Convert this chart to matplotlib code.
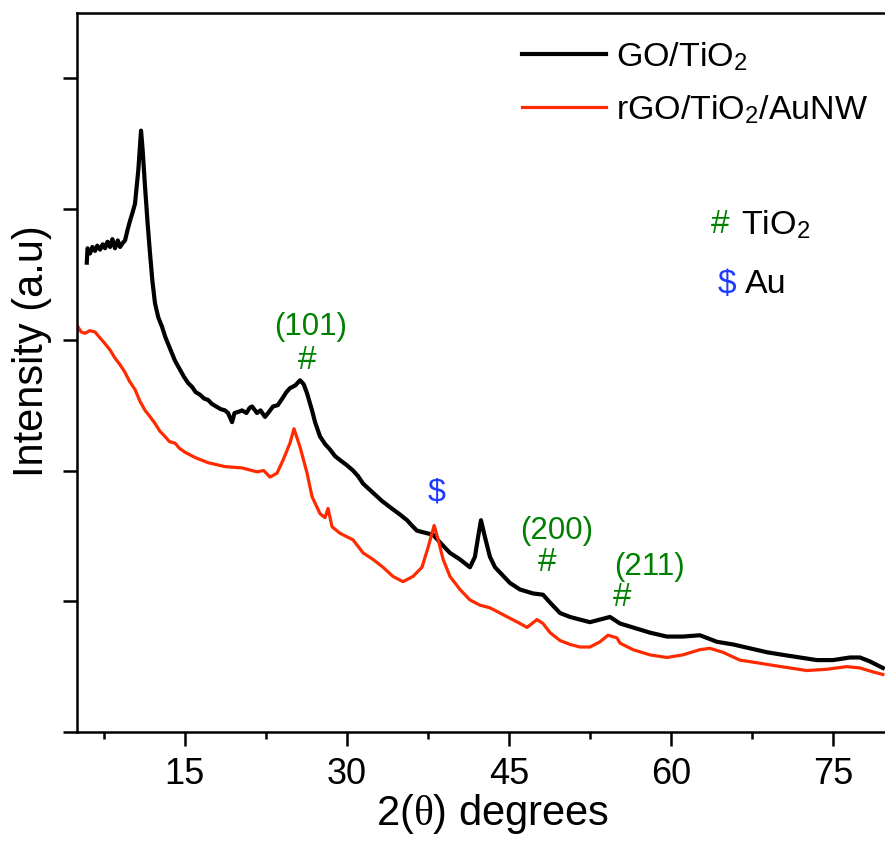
import matplotlib
matplotlib.use("Agg")
import matplotlib.pyplot as plt

plt.rcParams['font.family'] = ['Liberation Sans', 'DejaVu Sans']
plt.rcParams['mathtext.fontset'] = 'custom'
plt.rcParams['mathtext.rm'] = 'Liberation Sans'
plt.rcParams['mathtext.it'] = 'Liberation Serif'

# XRD patterns, 2theta (deg) vs intensity (a.u.)
go_tio2_2theta = [5.93, 6.0, 6.23, 6.45, 6.69, 6.9, 7.16, 7.4, 7.62, 7.85, 8.08, 8.3,
                  8.54, 8.8, 9.01, 9.25, 9.47, 9.7, 9.93, 10.15, 10.39, 10.7, 10.95,
                  11.1, 11.32, 11.55, 11.78, 12.0, 12.24, 12.55, 12.89, 13.2, 13.5,
                  13.8, 14.09, 14.5, 14.9, 15.3, 15.67, 16.0, 16.4, 16.8, 17.15, 17.5,
                  17.9, 18.3, 18.72, 19.0, 19.37, 19.6, 20.0, 20.29, 20.7, 21.0, 21.22,
                  21.68, 22.0, 22.42, 22.8, 23.16, 23.6, 24.09, 24.4, 24.73, 25.2,
                  25.66, 26.0, 26.31, 26.77, 27.05, 27.51, 28.0, 28.44, 28.9, 29.36,
                  30.0, 30.56, 31.0, 31.49, 32.41, 33.2, 33.98, 34.8, 35.56, 36.0,
                  36.48, 37.41, 37.96, 38.61, 39.53, 40.46, 41.38, 41.84, 42.15, 42.4,
                  42.77, 43.23, 43.7, 44.16, 45.08, 46.01, 47.21, 48.14, 48.79, 49.71,
                  50.64, 51.56, 52.48, 53.41, 54.33, 55.26, 56.46, 58.03, 59.6, 61.08,
                  62.66, 64.23, 65.71, 67.28, 68.86, 70.34, 71.91, 73.48, 74.96, 76.53,
                  77.46, 78.38, 79.58]
go_tio2_int = [3.59, 3.70, 3.66, 3.71, 3.68, 3.72, 3.69, 3.73, 3.70, 3.75, 3.71, 3.77,
               3.70, 3.76, 3.71, 3.74, 3.76, 3.84, 3.91, 3.97, 4.04, 4.30, 4.60,
               4.45, 4.17, 3.90, 3.66, 3.45, 3.28, 3.17, 3.10, 3.02, 2.96,
               2.90, 2.84, 2.78, 2.72, 2.67, 2.64, 2.60, 2.58, 2.55, 2.54, 2.51,
               2.49, 2.47, 2.46, 2.44, 2.37, 2.44, 2.45, 2.46, 2.44, 2.48, 2.49,
               2.44, 2.46, 2.41, 2.45, 2.49, 2.50, 2.56, 2.60, 2.63, 2.65,
               2.69, 2.66, 2.59, 2.46, 2.37, 2.26, 2.20, 2.16, 2.11, 2.08,
               2.04, 2.00, 1.96, 1.90, 1.83, 1.77, 1.72, 1.67, 1.62, 1.58,
               1.54, 1.52, 1.51, 1.45, 1.37, 1.32, 1.26, 1.34, 1.50, 1.62,
               1.49, 1.34, 1.26, 1.22, 1.14, 1.09, 1.06, 1.05, 0.99, 0.91,
               0.88, 0.86, 0.84, 0.86, 0.88, 0.83, 0.80, 0.76, 0.73, 0.73,
               0.74, 0.69, 0.67, 0.64, 0.61, 0.59, 0.57, 0.55, 0.55, 0.57,
               0.57, 0.54, 0.49]

rgo_au_2theta = [5.03, 5.4, 5.77, 6.2, 6.69, 7.1, 7.62, 8.1, 8.54, 9.0, 9.47, 9.9,
                 10.39, 10.85, 11.32, 11.8, 12.24, 12.7, 13.17, 13.6, 14.09, 14.5,
                 15.02, 15.94, 17.15, 18.72, 20.29, 21.22, 21.68, 22.3, 22.88, 23.53,
                 24.09, 24.73, 25.1, 25.66, 26.31, 26.77, 27.51, 27.97, 28.25, 28.62,
                 29.36, 30.56, 31.49, 32.41, 33.34, 34.26, 35.19, 36.11, 36.94, 37.5,
                 38.07, 38.44, 38.9, 39.53, 40.46, 41.38, 42.31, 43.23, 44.16, 45.08,
                 46.01, 46.66, 47.58, 48.14, 48.79, 49.71, 50.64, 51.56, 52.48, 53.41,
                 54.15, 54.98, 55.26, 56.46, 58.03, 59.6, 61.08, 62.66, 63.58, 64.78,
                 66.35, 67.92, 69.4, 70.97, 72.54, 74.39, 76.24, 77.46, 78.66, 79.58]
rgo_au_int = [3.11, 3.06, 3.05, 3.07, 3.06, 3.02, 2.97, 2.92, 2.86, 2.81, 2.75, 2.68,
              2.62, 2.53, 2.46, 2.41, 2.36, 2.30, 2.26, 2.22, 2.21, 2.17,
              2.14, 2.10, 2.06, 2.03, 2.02, 2.00, 1.99, 2.00, 1.95, 1.98,
              2.08, 2.21, 2.32, 2.18, 1.98, 1.80, 1.67, 1.64, 1.71, 1.57,
              1.52, 1.47, 1.37, 1.32, 1.26, 1.19, 1.15, 1.19, 1.26, 1.41,
              1.58, 1.47, 1.32, 1.19, 1.09, 1.01, 0.97, 0.95, 0.91, 0.87,
              0.83, 0.80, 0.86, 0.83, 0.76, 0.70, 0.67, 0.65, 0.65, 0.69,
              0.74, 0.72, 0.68, 0.63, 0.59, 0.57, 0.59, 0.63, 0.64, 0.61,
              0.55, 0.53, 0.51, 0.49, 0.47, 0.48, 0.50, 0.49, 0.46, 0.44]

# peak markers: (2theta, intensity, text)
tio2_hkl = [(26.6, 3.10, '(101)'), (49.4, 1.54, '(200)'), (58.0, 1.26, '(211)')]
tio2_hash = [(26.3, 2.84), (48.5, 1.30), (55.5, 1.03)]
au_peak = (38.3, 1.83)

green = '#008000'
blue = '#1e3cff'
red = '#ff2a00'

fig = plt.figure(figsize=(8.85, 8.41), dpi=100)
ax = fig.add_axes([0.0867, 0.1296, 0.916, 0.855])

ax.plot(go_tio2_2theta, go_tio2_int, color='black', lw=3.0, label='GO/TiO$_2$')
ax.plot(rgo_au_2theta, rgo_au_int, color=red, lw=2.3, label='rGO/TiO$_2$/AuNW')

for x, y, s in tio2_hkl:
    ax.text(x, y, s, color=green, fontsize=22.5, ha='center', va='center')
for x, y in tio2_hash:
    ax.text(x, y, '#', color=green, fontsize=24, ha='center', va='center')
ax.text(au_peak[0], au_peak[1], '$', color=blue, fontsize=23, ha='center', va='center')

# phase key
ax.text(64.5, 3.88, '#', color=green, fontsize=24, ha='center', va='center')
ax.text(66.5, 3.88, 'TiO$_2$', color='black', fontsize=24.5, ha='left', va='center')
ax.text(65.2, 3.42, '$', color=blue, fontsize=24, ha='center', va='center')
ax.text(66.8, 3.42, 'Au', color='black', fontsize=24.5, ha='left', va='center')

ax.set_xlim(5, 80)
ax.set_ylim(0, 5.5)
ax.set_xticks([15, 30, 45, 60, 75])
ax.set_xticks([7.5, 22.5, 37.5, 52.5, 67.5], minor=True)
ax.set_yticks([0, 1, 2, 3, 4, 5])
ax.set_yticklabels([])

ax.tick_params(axis='both', which='major', direction='out', length=10, width=1.8,
               labelsize=26, pad=8)
ax.tick_params(axis='x', which='minor', direction='out', length=5, width=1.8)
for side in ['left', 'bottom', 'top']:
    ax.spines[side].set_linewidth(1.8)
ax.spines['right'].set_visible(False)

ax.set_xlabel(r'2($\theta$) degrees', fontsize=30)
ax.set_ylabel('Intensity (a.u)', fontsize=30)
ax.xaxis.set_label_coords(0.513, -0.083)
ax.yaxis.set_label_coords(-0.0305, 0.530)

ax.legend(loc='upper left', bbox_to_anchor=(0.59, 0.952), bbox_transform=fig.transFigure,
          frameon=False, fontsize=24.5, handlelength=2.45, handletextpad=0.3,
          labelspacing=0.6, borderpad=0, borderaxespad=0)

fig.savefig('out.png', dpi=100)
